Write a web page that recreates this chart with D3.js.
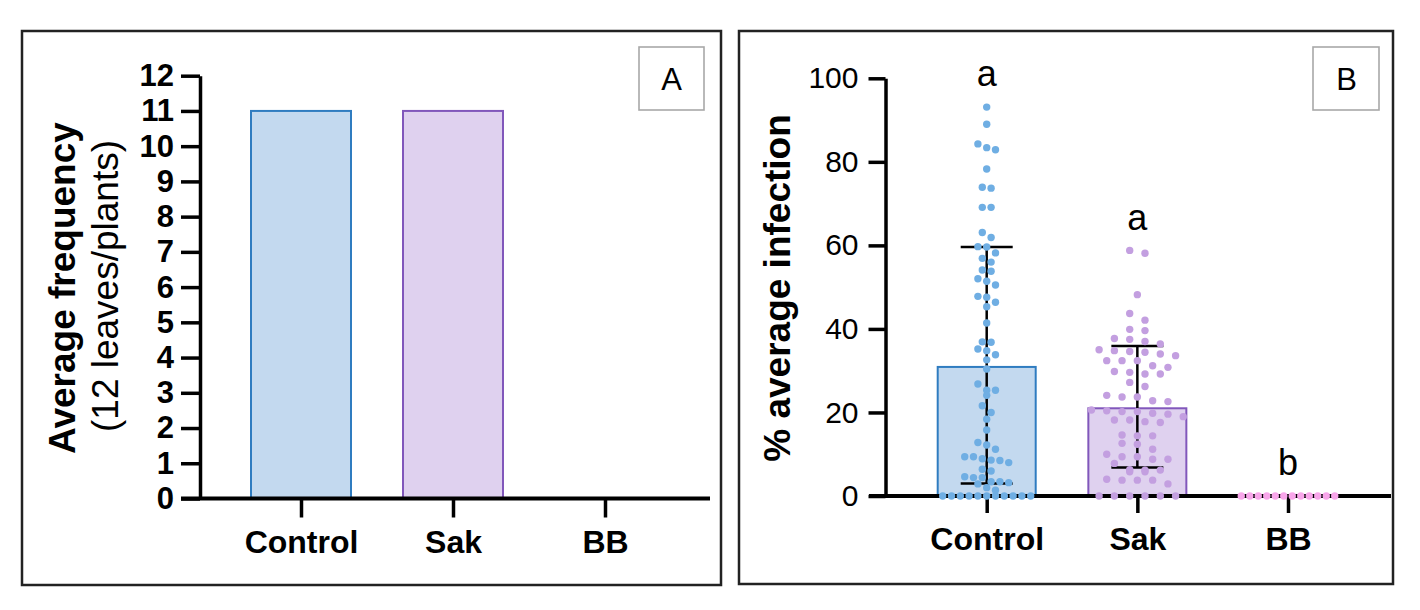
<!DOCTYPE html>
<html>
<head>
<meta charset="utf-8">
<title>Average frequency and % average infection</title>
<script src="https://cdnjs.cloudflare.com/ajax/libs/d3/7.8.5/d3.min.js"></script>
<style>
  body { margin: 0; background: #fff; }
  svg { display: block; font-family: "Liberation Sans", Arial, sans-serif; }
  .frame { fill: none; stroke: #222; stroke-width: 2.5px; }
  .tag { fill: #fff; stroke: #a8a8a8; stroke-width: 1.6px; }
  .axis path, .axis line { stroke: #000; stroke-width: 3.5px; }
  .axis text { fill: #000; }
  .base { stroke: #000; stroke-width: 4px; }
  .err { stroke: #000; stroke-width: 2.5px; }
</style>
</head>
<body>
<svg id="chart" width="1420" height="610"></svg>
<script>
// groups and values
var groups = ["Control", "Sak", "BB"];
var freqValues = [11, 11, 0];
var freqTicks = d3.range(0, 13);

var infMeans = [30.9, 21.0, 0];
var infLow = [3.0, 6.8, 0];
var infHigh = [59.6, 35.9, 0];
var infTicks = [0, 20, 40, 60, 80, 100];
var letters = ["a", "a", "b"];

var controlPoints = [93.1, 89.0, 84.3, 83.4, 82.9, 78.3, 73.9, 73.7, 69.1, 69.1,
  63.1, 61.9, 59.7, 59.6, 58.2, 56.9, 56.0, 54.1, 53.8, 52.0, 51.4, 50.5,
  47.8, 47.6, 46.4, 45.3, 41.4, 36.9, 36.8, 35.2, 34.8, 33.8, 32.6, 30.4,
  26.8, 25.3, 25.3, 24.1, 21.6, 20.0, 18.4, 15.8, 12.8, 12.2, 11.2,
  9.4, 9.4, 8.9, 8.6, 8.5, 8.0, 6.4, 6.0, 4.6, 4.4, 4.4, 3.4, 3.4, 3.2,
  2.9, 2.0, 1.4, 0, 0, 0, 0, 0, 0, 0, 0, 0, 0, 0];
var sakPoints = [58.8, 58.1, 48.2, 43.7, 42.1, 39.9, 39.6, 37.7, 37.5, 37.0, 36.4,
  35.0, 34.8, 34.6, 34.4, 34.0, 33.6, 32.4, 32.4, 32.4, 31.2, 30.8, 29.8,
  29.6, 29.2, 29.2, 27.2, 26.2, 24.1, 23.7, 23.7, 22.8, 22.6, 20.6, 20.4,
  20.2, 20.2, 19.8, 19.6, 19.0, 18.2, 18.2, 17.8, 17.6, 14.6, 14.4, 14.4,
  12.6, 12.4, 11.2, 10.0, 9.4, 9.4, 8.8, 8.8, 7.8, 6.3, 6.2, 6.2, 5.8, 5.8,
  4.0, 3.8, 3.8, 3.8, 2.9, 0, 0, 0, 0, 0, 0];
var bbPoints = [0, 0, 0, 0, 0, 0, 0, 0, 0, 0, 0, 0];

var barFill = ["#c3d9ef", "#dfd1ef", "#fbd3f3"];
var barStroke = ["#2f7cc0", "#8157bb", "#e98fdb"];
var dotFill = ["#6faee3", "#c39fe0", "#f8a6ea"];
var dotGap = [8.8, 15.3, 8.5];

var svg = d3.select("#chart");
svg.append("rect").attr("width", 1420).attr("height", 610).attr("fill", "#fff");

// ---------- panel A ----------
var A = svg.append("g");
A.append("rect").attr("class", "frame").attr("x", 22).attr("y", 31).attr("width", 699).attr("height", 554);

var xA = d3.scalePoint().domain(groups).range([301, 605]);
var yA = d3.scaleLinear().domain([0, 12]).range([498.5, 75.7]);

A.selectAll("rect.bar")
  .data(groups)
  .enter()
  .append("rect")
  .attr("class", "bar")
  .attr("x", d => xA(d) - 50)
  .attr("width", 100)
  .attr("y", (d, i) => yA(freqValues[i]))
  .attr("height", (d, i) => yA(0) - yA(freqValues[i]))
  .attr("fill", (d, i) => barFill[i])
  .attr("stroke", (d, i) => barStroke[i])
  .attr("stroke-width", 2)
  .style("display", (d, i) => freqValues[i] > 0 ? null : "none");

A.append("g")
  .attr("class", "axis")
  .attr("transform", "translate(200,0)")
  .call(d3.axisLeft(yA).tickValues(freqTicks).tickSize(19).tickSizeOuter(0).tickPadding(7))
  .call(g => g.selectAll("text").attr("font-size", 31).attr("font-weight", "bold"));

A.append("line").attr("class", "base")
  .attr("x1", 181).attr("x2", 710).attr("y1", yA(0)).attr("y2", yA(0));

A.append("g")
  .attr("class", "axis")
  .attr("transform", "translate(0," + yA(0) + ")")
  .call(d3.axisBottom(xA).tickSize(19).tickPadding(13).tickSizeOuter(0))
  .call(g => g.select(".domain").remove())
  .call(g => g.selectAll("text").attr("font-size", 32).attr("font-weight", "bold"));

A.append("text")
  .attr("transform", "translate(62,288) rotate(-90)")
  .attr("text-anchor", "middle").attr("dy", "0.35em")
  .attr("font-size", 37).attr("font-weight", "bold")
  .text("Average frequency");
A.append("text")
  .attr("transform", "translate(105,286) rotate(-90)")
  .attr("text-anchor", "middle").attr("dy", "0.35em")
  .attr("font-size", 37)
  .text("(12 leaves/plants)");

A.append("rect").attr("class", "tag").attr("x", 639).attr("y", 47).attr("width", 65).attr("height", 63);
A.append("text").attr("x", 671.5).attr("y", 90).attr("text-anchor", "middle")
  .attr("font-size", 31).text("A");

// ---------- panel B ----------
var B = svg.append("g");
B.append("rect").attr("class", "frame").attr("x", 739).attr("y", 31).attr("width", 654).attr("height", 553);

var xB = d3.scalePoint().domain(groups).range([986.7, 1288]);
var yB = d3.scaleLinear().domain([0, 100]).range([496, 78.3]);

B.selectAll("rect.bar")
  .data(groups)
  .enter()
  .append("rect")
  .attr("class", "bar")
  .attr("x", d => xB(d) - 49)
  .attr("width", 98)
  .attr("y", (d, i) => yB(infMeans[i]))
  .attr("height", (d, i) => yB(0) - yB(infMeans[i]))
  .attr("fill", (d, i) => barFill[i])
  .attr("stroke", (d, i) => barStroke[i])
  .attr("stroke-width", 2)
  .style("display", (d, i) => infMeans[i] > 0 ? null : "none");

// error bars (mean ± SD)
var errG = B.append("g");
groups.forEach((g, i) => {
  if (infHigh[i] <= 0) return;
  var cx = xB(g);
  errG.append("line").attr("class", "err").attr("x1", cx).attr("x2", cx)
    .attr("y1", yB(infHigh[i])).attr("y2", yB(infLow[i]));
  [infHigh[i], infLow[i]].forEach(v => {
    errG.append("line").attr("class", "err").attr("x1", cx - 26).attr("x2", cx + 26)
      .attr("y1", yB(v)).attr("y2", yB(v));
  });
});

B.append("g")
  .attr("class", "axis")
  .attr("transform", "translate(885.5,0)")
  .call(d3.axisLeft(yB).tickValues(infTicks).tickSize(17).tickSizeOuter(0).tickPadding(10))
  .call(g => g.selectAll("text").attr("font-size", 30));

B.append("line").attr("class", "base")
  .attr("x1", 869).attr("x2", 1391).attr("y1", yB(0)).attr("y2", yB(0));

B.append("g")
  .attr("class", "axis")
  .attr("transform", "translate(0," + yB(0) + ")")
  .call(d3.axisBottom(xB).tickSize(17).tickPadding(14).tickSizeOuter(0))
  .call(g => g.select(".domain").remove())
  .call(g => g.selectAll("text").attr("font-size", 32).attr("font-weight", "bold"));

// dots, arranged in rows like a scatter dot plot
function swarm(values, cx, gap) {
  var sorted = values.slice().sort((a, b) => b - a);
  var rows = [];
  sorted.forEach(v => {
    var row = rows[rows.length - 1];
    if (row && yB(v) - yB(row[0]) < 7) row.push(v);
    else rows.push([v]);
  });
  var out = [];
  rows.forEach(row => row.forEach((v, k) => {
    out.push({ v: v, x: cx + (k - (row.length - 1) / 2) * gap });
  }));
  return out;
}

var pointSets = [controlPoints, sakPoints, bbPoints];
pointSets.forEach((vals, i) => {
  B.append("g")
    .selectAll("circle")
    .data(swarm(vals, xB(groups[i]), dotGap[i]))
    .enter()
    .append("circle")
    .attr("cx", d => d.x)
    .attr("cy", d => yB(d.v))
    .attr("r", 3.7)
    .attr("fill", dotFill[i]);
});

// significance letters
B.selectAll("text.sig")
  .data(groups)
  .enter()
  .append("text")
  .attr("class", "sig")
  .attr("x", d => xB(d))
  .attr("y", (d, i) => yB(d3.max(pointSets[i]) + 5))
  .attr("text-anchor", "middle")
  .attr("font-size", 36)
  .text((d, i) => letters[i]);

B.append("text")
  .attr("transform", "translate(777,288) rotate(-90)")
  .attr("text-anchor", "middle").attr("dy", "0.35em")
  .attr("font-size", 37).attr("font-weight", "bold")
  .text("% average infection");

B.append("rect").attr("class", "tag").attr("x", 1313).attr("y", 47).attr("width", 66).attr("height", 63);
B.append("text").attr("x", 1346.5).attr("y", 90).attr("text-anchor", "middle")
  .attr("font-size", 31).text("B");
</script>
</body>
</html>
